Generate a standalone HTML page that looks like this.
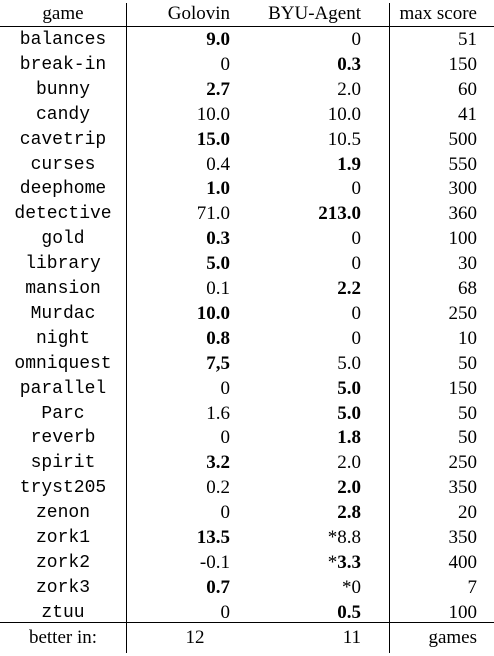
<!DOCTYPE html>
<html><head><meta charset="utf-8"><style>
body{margin:0;width:494px;height:656px;background:#fff;position:relative;overflow:hidden;font-family:"Liberation Serif",serif;color:#000}
.c{position:absolute;font-size:19px;line-height:22px;white-space:nowrap}
.m{font-family:"Liberation Mono",monospace;font-size:18px}
.b{font-weight:bold}
.n{font-weight:normal}
.ln{position:absolute;background:#000}
</style></head><body>
<div class="ln" style="left:0;top:26px;width:494px;height:1px"></div>
<div class="ln" style="left:0;top:622px;width:494px;height:1px"></div>
<div class="ln" style="left:126px;top:3px;width:1px;height:650px"></div>
<div class="ln" style="left:389px;top:3px;width:1px;height:650px"></div>
<script>
const games=["balances","break-in","bunny","candy","cavetrip","curses","deephome","detective","gold","library","mansion","Murdac","night","omniquest","parallel","Parc","reverb","spirit","tryst205","zenon","zork1","zork2","zork3","ztuu"];
const golovin=["9.0","0","2.7","10.0","15.0","0.4","1.0","71.0","0.3","5.0","0.1","10.0","0.8","7,5","0","1.6","0","3.2","0.2","0","13.5","-0.1","0.7","0"];
const byu=["0","0.3","2.0","10.0","10.5","1.9","0","213.0","0","0","2.2","0","0","5.0","5.0","5.0","1.8","2.0","2.0","2.8","*8.8","*3.3","*0","0.5"];
const maxScore=["51","150","60","41","500","550","300","360","100","30","68","250","10","50","150","50","50","250","350","20","350","400","7","100"];
const golovinBold=[1,0,1,0,1,0,1,0,1,1,0,1,1,1,0,0,0,1,0,0,1,0,1,0];
const byuBold=[0,1,0,0,0,1,0,1,0,0,1,0,0,0,1,1,1,0,1,1,0,1,0,1];
function cell(txt,x,cy,align,cls,name){
  const d=document.createElement('div');
  d.className='c '+cls;
  
  
  if(txt.startsWith('*')){
    const s=document.createElement('span');s.className='n';s.textContent='*';
    d.appendChild(s);d.appendChild(document.createTextNode(txt.slice(1)));
  } else d.textContent=txt;
  d.style.top=(cy-11)+'px';
  if(align==='r'){d.style.right=(494-x)+'px';}
  else if(align==='c'){d.style.left=(x-100)+'px';d.style.width='200px';d.style.textAlign='center';}
  document.body.appendChild(d);
}
cell("game",63,14,'c','','header-game');
cell("Golovin",230,14,'r','','header-golovin');
cell("BYU-Agent",361,14,'r','','header-byu-agent');
cell("max score",477,14,'r','','header-max-score');
for(let i=0;i<games.length;i++){
  const y=40+i*24.9;
  cell(games[i],63,y,'c','m','game-name');
  cell(golovin[i],230,y,'r',golovinBold[i]?'b':'','golovin-score');
  cell(byu[i],361,y,'r',byuBold[i]?'b':'','byu-agent-score');
  cell(maxScore[i],477,y,'r','','max-score');
}
cell("better in:",63,638,'c','','footer-label');
cell("12",195,638,'c','','golovin-better-count');
cell("11",361,638,'r','','byu-better-count');
cell("games",477,638,'r','','footer-games');
</script>
</body></html>
